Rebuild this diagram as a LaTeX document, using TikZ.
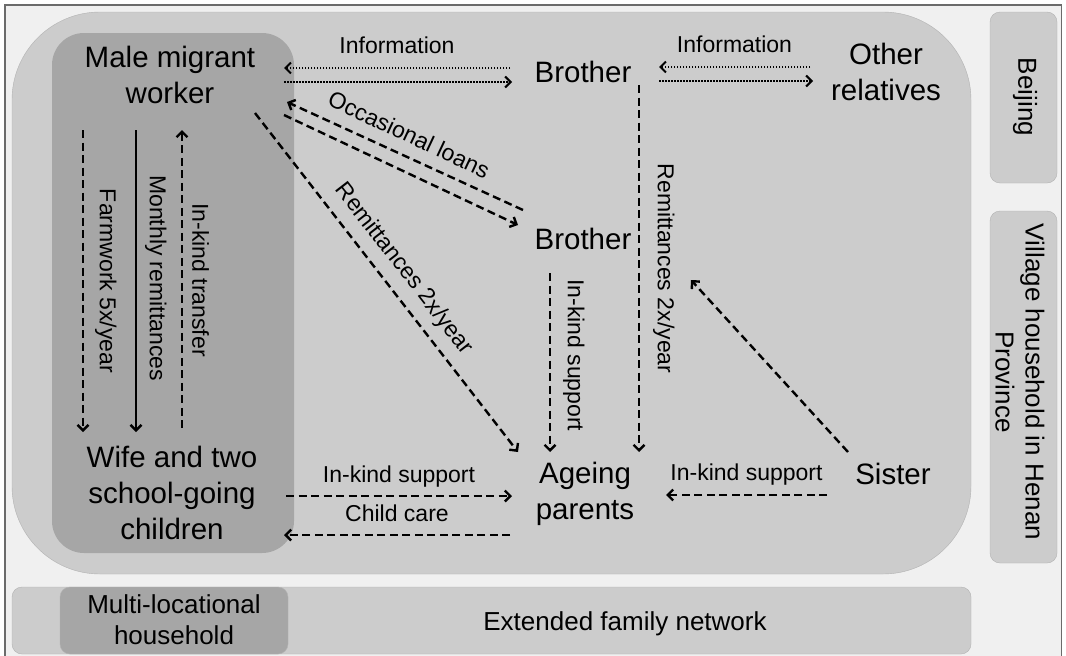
\documentclass[tikz,border=0pt]{standalone}
\usepackage{fontspec}
\setmainfont{Liberation Sans}
\usetikzlibrary{arrows.meta}
\definecolor{framegray}{rgb}{0.94, 0.94, 0.94}
\definecolor{framedraw}{rgb}{0.42, 0.42, 0.42}
\definecolor{villagegray}{rgb}{0.80, 0.80, 0.80}
\definecolor{edgegray}{rgb}{0.70, 0.70, 0.70}
\definecolor{hhgray}{rgb}{0.65, 0.65, 0.65}

\begin{document}
\begin{tikzpicture}[x=1pt, y=-1pt,
    person/.style={align=center, inner sep=0pt, font=\fontsize{29.5}{36}\selectfont},
    lbl/.style={inner sep=1pt, font=\fontsize{23}{27}\selectfont},
    region/.style={align=center, inner sep=0pt, font=\fontsize{26}{30}\selectfont},
    flow/.style={line width=2.4pt, -{Straight Barb[length=5.5pt,width=11pt]}},
    dashflow/.style={flow, dash pattern=on 8pt off 4.5pt},
    infoflow/.style={flow, line width=2pt, dash pattern=on 1.5pt off 1.5pt}]

    \useasboundingbox (0,0) rectangle (1066,656);

    % Background frame and the nested areas
    \draw[fill=framegray, draw=framedraw, line width=1.5pt] (5,5) rectangle (1061.5,662);
    \draw[fill=villagegray, draw=edgegray, rounded corners=88pt] (12,12) rectangle (971,574); % Village household
    \fill[hhgray, rounded corners=32pt] (52,33) rectangle (294,553); % Multi-locational household
    \foreach \top/\bottom in {12/183, 211/563} {
        \draw[fill=villagegray, draw=edgegray, rounded corners=10pt] (990,\top) rectangle (1057,\bottom);
    }
    \draw[fill=villagegray, draw=edgegray, rounded corners=10pt] (12,587) rectangle (971,654); % Extended family
    \draw[fill=hhgray, draw=edgegray, rounded corners=10pt] (60,587) rectangle (288,654);

    % Area names
    \node[region, rotate=-90] (beijing) at (1025,97) {Beijing};
    \node[region, rotate=-90] (henan) at (1020,382) {Village household in Henan\\Province};
    \node[region, font=\fontsize{26}{31}\selectfont] (multi) at (174,620) {Multi-locational\\household};
    \node[region] (extended) at (625,624) {Extended family network};

    % Family members
    \node[person] (male) at (170,75) {Male migrant\\worker};
    \node[person] (bro1) at (583,72) {Brother};
    \node[person] (other) at (886,72) {Other\\relatives};
    \node[person] (bro2) at (583,239) {Brother};
    \node[person] (wife) at (172,493) {Wife and two\\school-going\\children};
    \node[person] (parents) at (585,494) {Ageing\\parents};
    \node[person] (sister) at (893,474) {Sister};

    % Information exchange
    \draw[infoflow] ([shift={(-73,-4)}]bro1.center) -- ([shift={(114,-7)}]male.center)
        node[lbl, midway, above=12pt] {Information};
    \draw[infoflow] ([shift={(114,7)}]male.center) -- ([shift={(-71,10)}]bro1.center);
    \draw[infoflow] ([shift={(-76,-5)}]other.center) -- ([shift={(76,-5)}]bro1.center)
        node[lbl, midway, above=12.5pt] {Information};
    \draw[infoflow] ([shift={(76,9)}]bro1.center) -- ([shift={(-73,9)}]other.center);

    % Loans between the brothers
    \draw[dashflow] ([shift={(-60,-29)}]bro2.center) -- ([shift={(117,27)}]male.center);
    \draw[dashflow] ([shift={(114,40)}]male.center) -- ([shift={(-65,-14)}]bro2.center)
        node[lbl, pos=0.47, sloped, above=25pt] {Occasional loans};

    % Support for the ageing parents
    \draw[dashflow] ([shift={(85,38)}]male.center) -- ([shift={(-67,-42)}]parents.center)
        node[lbl, midway, sloped, above=9pt] {Remittances 2x/year};
    \draw[dashflow] ([shift={(56,13)}]bro1.center) -- ([shift={(54,-42)}]parents.center)
        node[lbl, midway, sloped, above=12pt] {Remittances 2x/year};
    \draw[dashflow] ([shift={(-33,34)}]bro2.center) -- ([shift={(-35,-42)}]parents.center)
        node[lbl, pos=0.46, sloped, above=11pt] {In-kind support};
    \draw[dashflow] ([shift={(-45,-22)}]sister.center) -- ([shift={(108,41)}]bro2.center);
    \draw[dashflow] ([shift={(-66,21)}]sister.center) -- ([shift={(81,1)}]parents.center)
        node[lbl, midway, above=7.5pt] {In-kind support};
    \draw[dashflow] ([shift={(114,3)}]wife.center) -- ([shift={(-73,2)}]parents.center)
        node[lbl, midway, above=7pt] {In-kind support};
    \draw[dashflow] ([shift={(-75,41)}]parents.center) -- ([shift={(112,42)}]wife.center)
        node[lbl, midway, above=11pt] {Child care};

    % Inside the multi-locational household
    \draw[dashflow] ([shift={(-87,55)}]male.center) -- ([shift={(-89,-61)}]wife.center)
        node[lbl, midway, sloped, above=10pt] {Farmwork 5x/year};
    \draw[flow] ([shift={(-34,55)}]male.center) -- ([shift={(-36,-61)}]wife.center)
        node[lbl, pos=0.49, sloped, above=7pt] {Monthly remittances};
    \draw[dashflow, {Straight Barb[length=5.5pt,width=11pt]}-] ([shift={(12,55)}]male.center) -- ([shift={(10,-63)}]wife.center)
        node[lbl, midway, sloped, above=8pt] {In-kind transfer};
\end{tikzpicture}
\end{document}
